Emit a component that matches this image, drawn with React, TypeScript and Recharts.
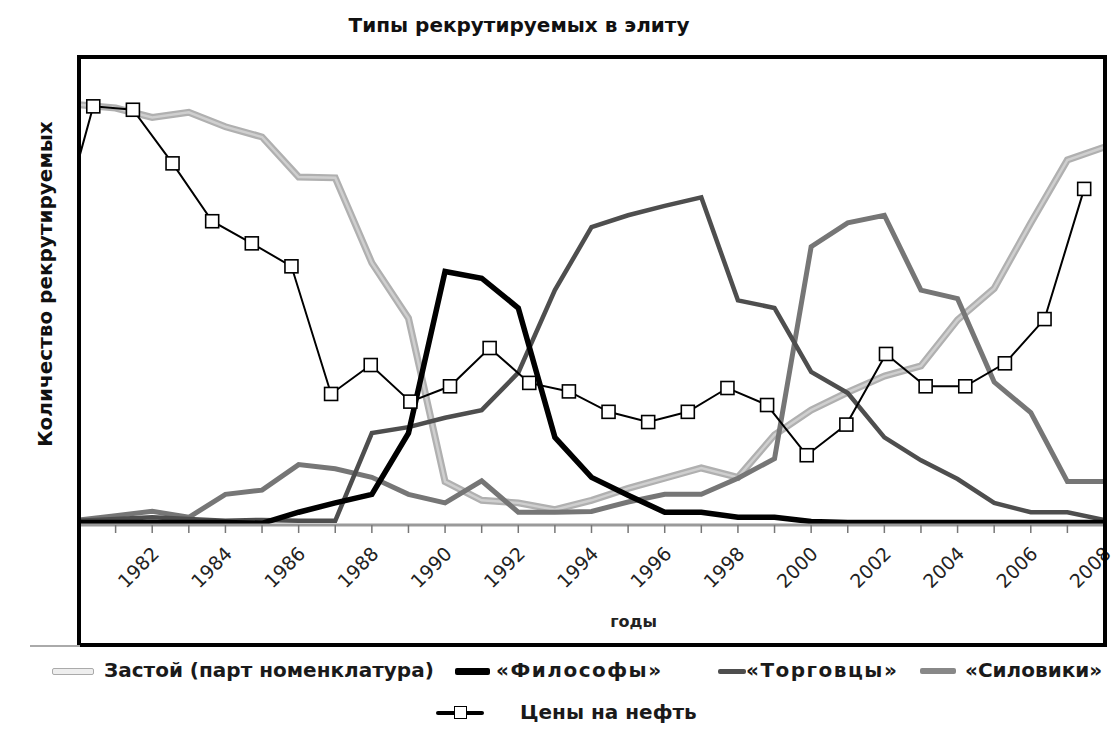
import { LineChart, Line, XAxis, YAxis, Label } from 'recharts'

// years on the main category scale
const years = [
  1980, 1981, 1982, 1983, 1984, 1985, 1986, 1987, 1988, 1989,
  1990, 1991, 1992, 1993, 1994, 1995, 1996, 1997, 1998, 1999,
  2000, 2001, 2002, 2003, 2004, 2005, 2006, 2007, 2008,
]

const zastoi = [
  4.94, 4.9, 4.79, 4.85, 4.68, 4.56, 4.09, 4.08, 3.08, 2.43,
  0.51, 0.29, 0.26, 0.18, 0.29, 0.43, 0.55, 0.67, 0.56, 1.06,
  1.35, 1.56, 1.75, 1.87, 2.41, 2.78, 3.55, 4.29, 4.44,
]
const filosofy = [
  0.03, 0.03, 0.03, 0.03, 0.03, 0.02, 0.15, 0.26, 0.36, 1.08,
  2.98, 2.9, 2.55, 1.03, 0.56, 0.35, 0.15, 0.15, 0.09, 0.09,
  0.04, 0.03, 0.03, 0.03, 0.03, 0.03, 0.03, 0.03, 0.03,
]
const torgovtsy = [
  0.05, 0.07, 0.09, 0.07, 0.05, 0.06, 0.05, 0.05, 1.08, 1.15,
  1.26, 1.35, 1.79, 2.76, 3.5, 3.64, 3.75, 3.85, 2.64, 2.55,
  1.8, 1.55, 1.03, 0.76, 0.54, 0.26, 0.15, 0.15, 0.06,
]
const siloviki = [
  0.06, 0.11, 0.16, 0.09, 0.36, 0.41, 0.71, 0.66, 0.56, 0.36,
  0.26, 0.52, 0.15, 0.15, 0.16, 0.27, 0.36, 0.36, 0.55, 0.78,
  3.27, 3.55, 3.64, 2.76, 2.66, 1.68, 1.32, 0.51, 0.51,
]

// oil prices sit on their own (secondary) category run; the first point falls off the left edge
const oilPrices = [
  3.23, 4.92, 4.88, 4.25, 3.57, 3.31, 3.04, 1.54, 1.88, 1.45,
  1.63, 2.08, 1.67, 1.57, 1.33, 1.21, 1.33, 1.61, 1.41, 0.82,
  1.18, 2.01, 1.63, 1.63, 1.9, 2.42, 3.95,
]

const rows = years.map((year, i) => ({
  year,
  zastoi: zastoi[i],
  filosofy: filosofy[i],
  torgovtsy: torgovtsy[i],
  siloviki: siloviki[i],
}))
const oilRows = oilPrices.map((oil, idx) => ({ idx, oil }))

const FONT = '"DejaVu Sans", "Liberation Sans", sans-serif'

function YearTick(props: any) {
  const { x, y, payload } = props
  const v = payload.value
  if (v % 2 !== 0 || v === 1980) return <g />
  const tx = x + 8
  const ty = y + 20
  return (
    <text
      x={tx}
      y={ty}
      transform={`rotate(-45 ${tx} ${ty})`}
      textAnchor="end"
      fontSize={19}
      fontFamily={FONT}
      fill="#222"
    >
      {v}
    </text>
  )
}

function SquareDot(props: any) {
  const { cx, cy, index } = props
  if (cx == null || cy == null) return <g key={index} />
  return (
    <rect
      key={index}
      x={cx - 6.5}
      y={cy - 6.5}
      width={13}
      height={13}
      fill="#fff"
      stroke="#000"
      strokeWidth={1.6}
    />
  )
}

const legendText: React.CSSProperties = {
  position: 'absolute',
  fontFamily: FONT,
  fontWeight: 700,
  fontSize: 20,
  color: '#1a1a1a',
  whiteSpace: 'nowrap',
  transform: 'translateY(-50%)',
}

function Bar({ left, top, width, height, color, border }: any) {
  return (
    <div
      style={{
        position: 'absolute',
        left,
        top: top - height / 2,
        width,
        height,
        background: color,
        border: border ?? 'none',
        boxSizing: 'border-box',
        borderRadius: 2,
      }}
    />
  )
}

export default function App() {
  return (
    <div
      style={{
        position: 'absolute',
        left: 0,
        top: 0,
        width: 1120,
        height: 735,
        background: '#fff',
        fontFamily: FONT,
      }}
    >
      <LineChart width={1120} height={735} margin={{ top: 57, right: 16, bottom: 110, left: 79 }}>
        <XAxis
          xAxisId="years"
          type="number"
          dataKey="year"
          domain={[1980, 2008]}
          ticks={years}
          interval={0}
          height={100}
          axisLine={{ stroke: '#9a9a9a', strokeWidth: 3 }}
          tickLine={{ stroke: '#777', strokeWidth: 1.5 }}
          tickSize={8}
          tick={<YearTick />}
        >
          <Label
            value="годы"
            position="insideBottom"
            offset={-2}
            dx={42}
            style={{ fontFamily: FONT, fontWeight: 700, fontSize: 16, fill: '#222' }}
          />
        </XAxis>
        <XAxis
          xAxisId="oil"
          type="number"
          dataKey="idx"
          domain={[0.64, 26.5]}
          allowDataOverflow
          height={0}
          hide
        />
        <YAxis
          type="number"
          domain={[0, 5.5]}
          ticks={[1, 2, 3, 4, 5]}
          width={0}
          mirror
          axisLine={false}
          tickLine={{ stroke: '#bbb' }}
          tickSize={7}
          tick={false}
        />

        <Line
          data={rows}
          xAxisId="years"
          dataKey="zastoi"
          type="linear"
          stroke="#b0b0b0"
          strokeWidth={7}
          dot={false}
          isAnimationActive={false}
        />
        <Line
          data={rows}
          xAxisId="years"
          dataKey="zastoi"
          type="linear"
          stroke="#cfcfcf"
          strokeWidth={2.5}
          dot={false}
          isAnimationActive={false}
        />
        <Line
          data={rows}
          xAxisId="years"
          dataKey="siloviki"
          type="linear"
          stroke="#767676"
          strokeWidth={5}
          dot={false}
          isAnimationActive={false}
        />
        <Line
          data={rows}
          xAxisId="years"
          dataKey="torgovtsy"
          type="linear"
          stroke="#4e4e4e"
          strokeWidth={4.5}
          dot={false}
          isAnimationActive={false}
        />
        <Line
          data={rows}
          xAxisId="years"
          dataKey="filosofy"
          type="linear"
          stroke="#000"
          strokeWidth={5.5}
          dot={false}
          isAnimationActive={false}
        />
        <Line
          data={oilRows}
          xAxisId="oil"
          dataKey="oil"
          type="linear"
          stroke="#000"
          strokeWidth={2}
          dot={<SquareDot />}
          isAnimationActive={false}
        />
      </LineChart>

      {/* frame around plot + axis labels */}
      <div
        style={{
          position: 'absolute',
          left: 77,
          top: 55,
          width: 1030,
          height: 592,
          border: '4px solid #000',
          boxSizing: 'border-box',
          pointerEvents: 'none',
        }}
      />
      <div style={{ position: 'absolute', left: 30, top: 645, width: 50, height: 2, background: '#aaa' }} />

      {/* title */}
      <div
        style={{
          position: 'absolute',
          left: 519,
          top: 25,
          transform: 'translate(-50%, -50%)',
          fontWeight: 700,
          fontSize: 20,
          color: '#111',
          whiteSpace: 'nowrap',
        }}
      >
        Типы рекрутируемых в элиту
      </div>

      {/* y label */}
      <div
        style={{
          position: 'absolute',
          left: 45,
          top: 284,
          transform: 'translate(-50%, -50%) rotate(-90deg)',
          fontWeight: 700,
          fontSize: 20,
          color: '#111',
          whiteSpace: 'nowrap',
        }}
      >
        Количество рекрутируемых
      </div>

      {/* legend */}
      <Bar left={52} top={671} width={42} height={7} color="#eee" border="1.5px solid #aaa" />
      <div style={{ ...legendText, left: 104, top: 670 }}>Застой (парт номенклатура)</div>
      <Bar left={455} top={671} width={35} height={7} color="#000" />
      <div style={{ ...legendText, left: 496, top: 670, letterSpacing: 1.5 }}>«Философы»</div>
      <Bar left={718} top={671} width={28} height={5} color="#4e4e4e" />
      <div style={{ ...legendText, left: 746, top: 670, letterSpacing: 1.5 }}>«Торговцы»</div>
      <Bar left={920} top={671} width={36} height={6} color="#888" />
      <div style={{ ...legendText, left: 965, top: 670 }}>«Силовики»</div>

      <Bar left={436} top={713} width={48} height={4} color="#000" />
      <div
        style={{
          position: 'absolute',
          left: 454,
          top: 706,
          width: 13,
          height: 13,
          background: '#fff',
          border: '1.6px solid #000',
          boxSizing: 'border-box',
        }}
      />
      <div style={{ ...legendText, left: 520, top: 712 }}>Цены на нефть</div>
    </div>
  )
}
